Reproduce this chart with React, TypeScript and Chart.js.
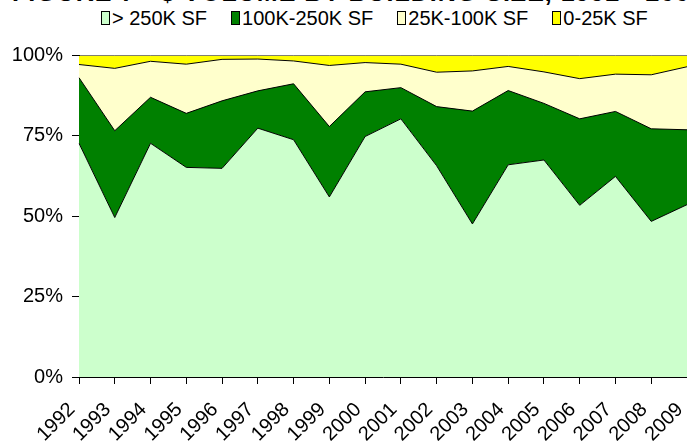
import React, { useEffect, useRef } from "react";
import { Chart, registerables } from "chart.js";

Chart.register(...registerables);

const titleText = "FIGURE 7 - $ VOLUME BY BUILDING SIZE, 1992 - 2009";
const years = ["1992", "1993", "1994", "1995", "1996", "1997", "1998", "1999", "2000", "2001", "2002", "2003", "2004", "2005", "2006", "2007", "2008", "2009"];
const over250K = [72.7, 49.6, 72.7, 65.2, 64.9, 77.4, 73.8, 56.0, 74.8, 80.3, 65.7, 47.6, 66.0, 67.5, 53.4, 62.4, 48.4, 53.6];
const from100Kto250K = [20.4, 27.0, 14.3, 16.8, 21.0, 11.6, 17.4, 21.9, 13.9, 9.7, 18.4, 35.1, 23.1, 17.6, 26.9, 20.2, 28.8, 23.3];
const from25Kto100K = [4.1, 19.4, 11.2, 15.3, 12.9, 9.9, 7.1, 19.0, 9.1, 7.3, 10.7, 12.5, 7.5, 9.8, 12.5, 11.6, 16.8, 19.6];
const under25K = [2.8, 4.0, 1.8, 2.7, 1.2, 1.1, 1.7, 3.1, 2.2, 2.7, 5.2, 4.8, 3.4, 5.1, 7.2, 5.8, 6.0, 3.5];
const seriesNames = ["> 250K SF", "100K-250K SF", "25K-100K SF", "0-25K SF"];
const seriesColors = ["#CCFFCC", "#008000", "#FFFFCC", "#FFFF00"];
const seriesValues = [over250K, from100Kto250K, from25Kto100K, under25K];

const FONT = "'Liberation Sans', Arial, Helvetica, sans-serif";

export default function App() {
  const canvasRef = useRef<HTMLCanvasElement | null>(null);

  useEffect(() => {
    const canvas = canvasRef.current;
    if (!canvas) return;
    const chart = new Chart(canvas, {
      type: "line",
      data: {
        labels: years,
        datasets: seriesValues.map((vals, i) => ({
          label: seriesNames[i],
          data: vals,
          backgroundColor: seriesColors[i],
          borderColor: "#000000",
          borderWidth: 1,
          pointRadius: 0,
          tension: 0,
          fill: i === 0 ? "origin" : "-1",
        })),
      },
      options: {
        responsive: false,
        animation: false,
        layout: { padding: { top: 55.5, right: 0, bottom: 0, left: 0 } },
        plugins: {
          legend: { display: false },
          title: { display: false },
          tooltip: { enabled: false },
        },
        scales: {
          x: {
            type: "category",
            offset: false,
            grid: { display: true, drawOnChartArea: false, drawTicks: true, tickLength: 7, color: "#000000" },
            border: { display: true, color: "#000000", width: 1 },
            ticks: {
              autoSkip: false,
              minRotation: 45,
              maxRotation: 45,
              padding: 14,
              labelOffset: -7,
              color: "#000000",
              font: { family: FONT, size: 20 },
            },
            afterFit: (s: any) => {
              s.height = 64;
              s.paddingLeft = 0;
              s.paddingRight = 0;
            },
          },
          y: {
            stacked: true,
            min: 0,
            max: 100,
            grid: { display: true, drawOnChartArea: false, drawTicks: true, tickLength: 7, color: "#000000" },
            border: { display: true, color: "#000000", width: 1 },
            ticks: {
              stepSize: 25,
              padding: 9,
              color: "#000000",
              font: { family: FONT, size: 20 },
              callback: (v: any) => v + "%",
            },
            afterFit: (s: any) => {
              s.width = 79;
              s.paddingTop = 0;
              s.paddingBottom = 0;
            },
          },
        },
      },
    });
    return () => chart.destroy();
  }, []);

  return (
    <div style={{ position: "fixed", left: 0, top: 0, width: 687, height: 441, overflow: "hidden", background: "#ffffff" }}>
      <div
        style={{
          position: "absolute",
          left: 12,
          top: -20,
          whiteSpace: "nowrap",
          fontFamily: FONT,
          fontWeight: "bold",
          fontSize: 25,
          letterSpacing: 1,
          lineHeight: "25px",
          color: "#000000",
        }}
      >
        {titleText}
      </div>
      <div
        style={{
          position: "absolute",
          left: 101,
          top: 8,
          display: "flex",
          alignItems: "center",
          gap: 24,
          whiteSpace: "nowrap",
          fontFamily: FONT,
          fontSize: 20,
          lineHeight: "20px",
          color: "#000000",
        }}
      >
        {seriesNames.map((name, i) => (
          <div key={name} style={{ display: "flex", alignItems: "center" }}>
            <span
              style={{
                display: "inline-block",
                width: 7,
                height: 12,
                border: "1px solid #000000",
                background: seriesColors[i],
                marginRight: 2,
              }}
            />
            <span>{name}</span>
          </div>
        ))}
      </div>
      <canvas ref={canvasRef} width={687} height={441} style={{ position: "absolute", left: 0, top: 0, display: "block" }} />
    </div>
  );
}
